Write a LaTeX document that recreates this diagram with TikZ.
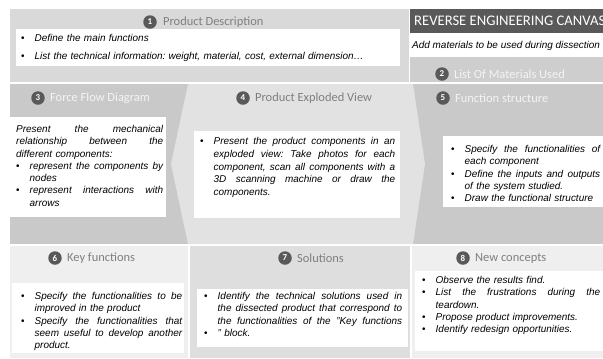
\documentclass[tikz,border=0pt]{standalone}
\usepackage{fontspec}
\setmainfont{Liberation Sans}
\newfontfamily\calib{Carlito}
\usetikzlibrary{positioning}

\definecolor{topgray}{HTML}{D9D9D9}
\definecolor{midgray}{HTML}{C9C9C9}
\definecolor{hexgray}{HTML}{E2E2E2}
\definecolor{lowgray}{HTML}{EFEFEF}
\definecolor{solgray}{HTML}{DEDEDE}
\definecolor{darkgray}{HTML}{595959}
\definecolor{titlegray}{HTML}{7F7F7F}
\definecolor{paletitle}{HTML}{F4F4F4}

% bullet indent
\newlength{\bw}\setlength{\bw}{13.5bp}
% justified line (spaces stretch again) / bullet line / bullet + justified / indented / indented + justified
\newcommand{\spread}[2]{\makebox[#1][s]{\spaceskip=0pt\xspaceskip=0pt #2}}
\newcommand{\jline}[1]{\spread{\hsize}{#1}}
\newcommand{\bline}[1]{\makebox[\bw][l]{\upshape\textbullet}#1}
\newcommand{\bjline}[1]{\makebox[\bw][l]{\upshape\textbullet}\spread{\dimexpr\hsize-\bw\relax}{#1}}
\newcommand{\iline}[1]{\hspace*{\bw}#1}
\newcommand{\ijline}[1]{\hspace*{\bw}\spread{\dimexpr\hsize-\bw\relax}{#1}}

\tikzset{
  num/.style={circle, fill=darkgray, text=white, inner sep=0pt, minimum size=13.5bp,
    font=\calib\bfseries\fontsize{9}{9}\selectfont},
  ttl/.style={text=titlegray, inner sep=0pt, font=\calib\fontsize{12.5}{14}\selectfont},
  wbox/.style={fill=white, inner sep=0pt, anchor=north west},
  body/.style={inner sep=0pt, anchor=north west, align=left,
    font=\frenchspacing\itshape\fontsize{10}{12.3}\selectfont},
}

\begin{document}
\begin{tikzpicture}[x=1bp,y=-1bp]
  \useasboundingbox (0,0) rectangle (603,358);
  \clip (0,0) rectangle (603,358);
  \fill[white] (0,0) rectangle (603,358);

  % top row
  \fill[topgray] (10,9) rectangle (409,82);
  \fill[darkgray] (410,9) rectangle (603,33);
  \fill[white] (410,35) rectangle (603,57);
  \fill[midgray!90!white] (410,57) rectangle (603,82);

  % middle row, the exploded view panel sits on top
  \fill[midgray] (10,84) rectangle (200,244);
  \fill[midgray] (400,84) rectangle (603,244);
  \fill[hexgray] (188,84) -- (413,84) -- (425,164) -- (413,244)
    -- (188,244) -- (171,164) -- cycle;

  % bottom row
  \fill[lowgray] (10,246) rectangle (188,358);
  \fill[solgray] (190,246) rectangle (410,358);
  \fill[lowgray] (412,246) rectangle (603,358);

  % titles
  \node[num] (n1) at (150,22) {1};
  \node[ttl, right=6bp of n1] (t1) {Product Description};
  \node[text=white, inner sep=0pt, anchor=west, font=\calib\fontsize{14.7}{17}\selectfont]
    (hdr) at (414,21) {REVERSE ENGINEERING CANVAS};
  \node[inner sep=0pt, anchor=west, font=\itshape\fontsize{10}{12}\selectfont]
    (add) at (412,46) {Add materials to be used during dissection};
  \node[num] (n2) at (442,74) {2};
  \node[ttl, text=paletitle, right=5bp of n2] (t2) {List Of Materials Used};
  \node[num] (n3) at (38,98) {3};
  \node[ttl, text=paletitle, right=5bp of n3] (t3) {Force Flow Diagram};
  \node[num] (n4) at (243,98) {4};
  \node[ttl, right=5bp of n4] (t4) {Product Exploded View};
  \node[num] (n5) at (443,98) {5};
  \node[ttl, text=paletitle, right=5bp of n5] (t5) {Function structure};
  \node[num] (n6) at (55,258) {6};
  \node[ttl, right=5bp of n6] (t6) {Key functions};
  \node[num] (n7) at (285,258) {7};
  \node[ttl, right=5bp of n7] (t7) {Solutions};
  \node[num] (n8) at (463,258) {8};
  \node[ttl, right=5bp of n8] (t8) {New concepts};

  % white boxes
  \node[wbox, minimum width=384bp, minimum height=37bp] (b1) at (16,29) {};
  \node[wbox, minimum width=156bp, minimum height=100bp] (b3) at (10,117) {};
  \node[wbox, minimum width=206bp, minimum height=87bp] (b4) at (194,131) {};
  \node[wbox, minimum width=165bp, minimum height=71bp] (b5) at (443,136) {};
  \node[wbox, minimum width=172bp, minimum height=70bp] (b6) at (12,283) {};
  \node[wbox, minimum width=211bp, minimum height=58bp] (b7) at (197,289) {};
  \node[wbox, minimum width=193bp, minimum height=80bp] (b8) at (415,271) {};

  % texts
  \node[body, text width=380bp, font=\frenchspacing\itshape\fontsize{10}{18}\selectfont] (x1) at (21,34.3) {%
    \bline{Define the main functions}\\
    \bline{List the technical information: weight, material, cost, external dimension…}};
  \node[body, text width=147bp] (x3) at (16,125.3) {%
    \jline{Present the mechanical}\\
    \jline{relationship between the}\\
    different components:\\
    \bjline{represent the components by}\\
    \iline{nodes}\\
    \bjline{represent interactions with}\\
    \iline{arrows}};
  \node[body, text width=195bp, font=\frenchspacing\itshape\fontsize{10}{12.8}\selectfont] (x4) at (200,137.3) {%
    \bjline{Present the product components in an}\\
    \ijline{exploded view: Take photos for each}\\
    \ijline{component, scan all components with a}\\
    \ijline{3D scanning machine or draw the}\\
    \iline{components.}};
  \node[body, text width=149bp] (x5) at (451,145.3) {%
    \bjline{Specify the functionalities of}\\
    \iline{each component}\\
    \bjline{Define the inputs and outputs}\\
    \iline{of the system studied.}\\
    \bline{Draw the functional structure}};
  \node[body, text width=161bp] (x6) at (21,292.3) {%
    \bjline{Specify the functionalities to be}\\
    \iline{improved in the product}\\
    \bjline{Specify the functionalities that}\\
    \ijline{seem useful to develop another}\\
    \iline{product.}};
  \node[body, text width=198bp] (x7) at (204,292.3) {%
    \bjline{Identify the technical solutions used in}\\
    \ijline{the dissected product that correspond to}\\
    \ijline{the functionalities of the "Key functions}\\
    \bline{" block.}};
  \node[body, text width=178bp] (x8) at (422,276.3) {%
    \bline{Observe the results find.}\\
    \bjline{List the frustrations during the}\\
    \iline{teardown.}\\
    \bline{Propose product improvements.}\\
    \bline{Identify redesign opportunities.}};
\end{tikzpicture}
\end{document}
